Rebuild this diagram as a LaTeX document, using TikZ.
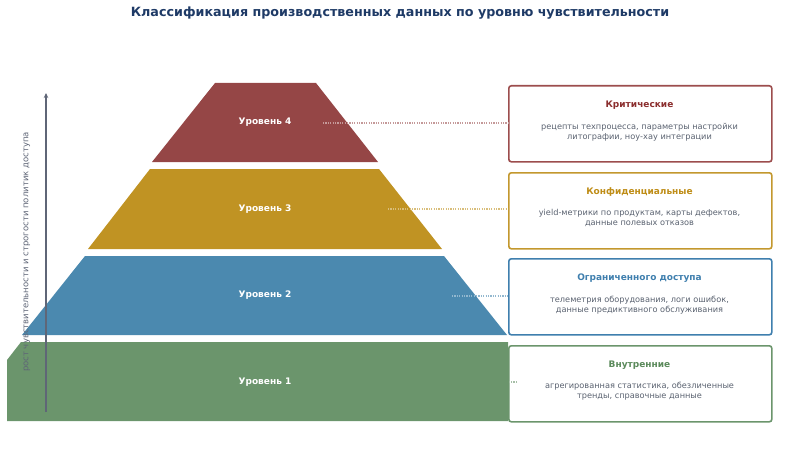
\documentclass[tikz,border=0pt]{standalone}
\usepackage{fontspec}
\setmainfont{DejaVu Sans}
\usetikzlibrary{arrows.meta}
\definecolor{cred}{HTML}{954646}
\definecolor{cgold}{HTML}{C09323}
\definecolor{cblue}{HTML}{4B89AF}
\definecolor{cgreen}{HTML}{6B956C}
\definecolor{tred}{HTML}{8B2E2E}
\definecolor{tgold}{HTML}{BF8D17}
\definecolor{tblue}{HTML}{3F7FAE}
\definecolor{tgreen}{HTML}{5B8A5B}
\definecolor{descgray}{HTML}{5A6270}
\definecolor{axisgray}{HTML}{5F6677}
\definecolor{navy}{HTML}{1E3A66}
\tikzset{
  lvl/.style={text=white, font=\fontsize{9}{10}\selectfont\bfseries},
  infobox/.style={draw=#1, line width=1.6pt, rounded corners=2.5pt, fill=white, minimum width=263pt, minimum height=76pt, anchor=north west},
  boxtitle/.style={text=#1, font=\fontsize{9}{10}\selectfont\bfseries},
  desc/.style={text=descgray, font=\fontsize{8.2}{9.6}\selectfont, align=center},
  link/.style={draw=#1, line width=1.2pt, dash pattern=on 1.2pt off 1.2pt},
}
\begin{document}
\begin{tikzpicture}[x=1pt,y=-1pt]
\useasboundingbox (0,0) rectangle (800,476);
% title
\node[text=navy, font=\fontsize{12.7}{14}\selectfont\bfseries] (title) at (400,13.5) {Классификация производственных данных по уровню чувствительности};
% pyramid levels
\fill[cred]   (215,83) -- (316,83) -- (378,162) -- (152,162) -- cycle;
\fill[cgold]  (150,169) -- (379,169) -- (442,249) -- (88,249) -- cycle;
\fill[cblue]  (85,256) -- (444,256) -- (507,335) -- (22,335) -- cycle;
\fill[cgreen] (21,342) -- (508,342) -- (508,421) -- (7,421) -- (7,360) -- cycle;
\node[lvl] (l4) at (265,122.5) {Уровень 4};
\node[lvl] (l3) at (265,209.5) {Уровень 3};
\node[lvl] (l2) at (265,295.5) {Уровень 2};
\node[lvl] (l1) at (265,382.5) {Уровень 1};
% boxes
\node[infobox=tred!85] (b4) at (508,85) {};
\node[infobox=cgold!95] (b3) at (508,172) {};
\node[infobox=tblue] (b2) at (508,258) {};
\node[infobox=cgreen] (b1) at (508,345) {};
\node[boxtitle=tred] (t4) at (639.5,105.5) {Критические};
\node[desc] (d4) at (639.5,132) {рецепты техпроцесса, параметры настройки\\литографии, ноу-хау интеграции};
\node[boxtitle=tgold] (t3) at (639.5,192.5) {Конфиденциальные};
\node[desc] (d3) at (639.5,218) {yield-метрики по продуктам, карты дефектов,\\данные полевых отказов};
\node[boxtitle=tblue] (t2) at (639.5,278.5) {Ограниченного доступа};
\node[desc] (d2) at (639.5,305) {телеметрия оборудования, логи ошибок,\\данные предиктивного обслуживания};
\node[boxtitle=tgreen] (t1) at (639.5,365.5) {Внутренние};
\node[desc] (d1) at (639.5,391) {агрегированная статистика, обезличенные\\тренды, справочные данные};
% links
\coordinate (c4) at (323,123);
\coordinate (c3) at (388,209);
\coordinate (c2) at (452,296);
\coordinate (c1) at (517,382);
\draw[link=cred!55] (c4) -- (c4 -| b4.west);
\draw[link=cgold!60] (c3) -- (c3 -| b3.west);
\draw[link=cblue!60] (c2) -- (c2 -| b2.west);
\draw[link=cgreen!60] (c1) -- (c1 -| b1.west);
% axis
\coordinate (a0) at (46,412);
\coordinate (a1) at (46,93);
\draw[axisgray, line width=1.2pt, -{Stealth[length=5pt,width=4.5pt]}] (a0) -- (a1);
\node[text=axisgray, rotate=90, font=\fontsize{8.5}{10}\selectfont] (axl) at (27,252) {рост чувствительности и строгости политик доступа};
\end{tikzpicture}
\end{document}
